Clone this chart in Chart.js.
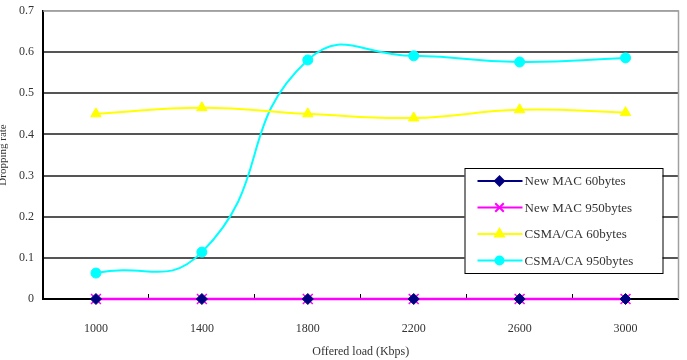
<!DOCTYPE html>
<html>
<head>
<meta charset="utf-8">
<script src="https://cdn.jsdelivr.net/npm/chart.js@4.4.1/dist/chart.umd.min.js"></script>
<style>
  html, body { margin: 0; padding: 0; background: #fff; }
  #wrap { width: 687px; height: 360px; }
</style>
</head>
<body>
<div id="wrap"><canvas id="myChart" width="687" height="360"></canvas></div>
<script>
// offered load (Kbps)
const loads = ['1000', '1400', '1800', '2200', '2600', '3000'];
// dropping rate per series
const newMac60 = [0, 0, 0, 0, 0, 0];
const newMac950 = [0, 0, 0, 0, 0, 0];
const csma60 = [0.450, 0.465, 0.450, 0.440, 0.460, 0.453];
const csma950 = [0.063, 0.114, 0.581, 0.591, 0.576, 0.586];
const yTicks = [0, 0.1, 0.2, 0.3, 0.4, 0.5, 0.6, 0.7];

const serif = "'Liberation Serif', 'DejaVu Serif', serif";

// light gray frame on the top and right of the plot area
const plotFrame = {
    id: 'plotFrame',
    beforeDatasetsDraw(chart){
        const {ctx, chartArea} = chart;
        ctx.save();
        ctx.strokeStyle = '#a0a0a0';
        ctx.lineWidth = 1.5;
        ctx.beginPath();
        ctx.moveTo(chartArea.left, chartArea.top);
        ctx.lineTo(chartArea.right, chartArea.top);
        ctx.lineTo(chartArea.right, chartArea.bottom);
        ctx.stroke();
        ctx.restore();
    }
};

// legend drawn as a boxed key inside the plot, excel style
const boxLegend = {
    id: 'boxLegend',
    afterDraw(chart){
        const {ctx, chartArea} = chart;
        const x = chartArea.right - 214, y = chartArea.bottom - 131;
        const w = 198, h = 105;
        ctx.save();
        ctx.fillStyle = '#fff';
        ctx.fillRect(x, y, w, h);
        ctx.strokeStyle = '#000';
        ctx.lineWidth = 1;
        ctx.strokeRect(x + 0.5, y + 0.5, w, h);
        chart.data.datasets.forEach((ds, i)=>{
            const cy = y + 13 + i * 26.5;
            ctx.strokeStyle = ds.borderColor;
            ctx.lineWidth = 2;
            ctx.beginPath();
            ctx.moveTo(x + 13, cy);
            ctx.lineTo(x + 58, cy);
            ctx.stroke();
            ctx.fillStyle = ds.pointBackgroundColor;
            ctx.strokeStyle = ds.pointBorderColor;
            Chart.helpers.drawPoint(ctx, {
                pointStyle: ds.pointStyle, radius: ds.pointRadius - 1,
                rotation: 0, borderWidth: ds.pointBorderWidth
            }, x + 35, cy);
            ctx.fillStyle = '#333';
            ctx.font = '13px ' + serif;
            ctx.textBaseline = 'middle';
            ctx.fillText(ds.label, x + 60, cy + 1);
        });
        ctx.restore();
    }
};

new Chart(document.getElementById('myChart'), {
    type: 'line',
    data: {
        labels: loads,
        datasets: [
            {
                label: 'New MAC 60bytes', data: newMac60, clip: false,
                borderColor: '#000080', borderWidth: 2, showLine: false,
                pointStyle: 'rectRot', pointRadius: 5.5,
                pointBackgroundColor: '#000080', pointBorderColor: '#000080', pointBorderWidth: 1
            },
            {
                label: 'New MAC 950bytes', data: newMac950, clip: false,
                borderColor: '#ff00ff', borderWidth: 2.5,
                pointStyle: 'crossRot', pointRadius: 7,
                pointBackgroundColor: '#ff00ff', pointBorderColor: '#ff00ff', pointBorderWidth: 1.5
            },
            {
                label: 'CSMA/CA 60bytes', data: csma60, clip: false,
                borderColor: '#ffff00', borderWidth: 2, tension: 0.45,
                pointStyle: 'triangle', pointRadius: 6,
                pointBackgroundColor: '#ffff00', pointBorderColor: '#ffff00', pointBorderWidth: 1
            },
            {
                label: 'CSMA/CA 950bytes', data: csma950, clip: false,
                borderColor: '#00ffff', borderWidth: 2, tension: 0.5,
                pointStyle: 'circle', pointRadius: 5,
                pointBackgroundColor: '#00ffff', pointBorderColor: '#00ffff', pointBorderWidth: 1
            }
        ]
    },
    options: {
        responsive: false,
        animation: false,
        layout: { padding: { left: 0, right: 6, top: 11, bottom: 0 } },
        plugins: {
            legend: { display: false },
            tooltip: { enabled: false }
        },
        scales: {
            x: {
                offset: true,
                grid: {
                    offset: true, drawOnChartArea: false, tickLength: -5,
                    color: '#000', tickColor: '#000'
                },
                border: { color: '#000', width: 2 },
                ticks: { color: '#333', font: { family: serif, size: 12 }, padding: 28, maxRotation: 0 },
                title: {
                    display: true, text: 'Offered load (Kbps)', color: '#333',
                    font: { family: serif, size: 12 }, padding: { top: 0, bottom: 1 }
                },
                afterFit(scale){ scale.height = 61; scale.paddingRight = 0; }
            },
            y: {
                min: 0, max: 0.7,
                afterBuildTicks(scale){ scale.ticks = yTicks.map(v => ({ value: v })); },
                grid: {
                    drawTicks: false,
                    color: ctx => ctx.tick && ctx.tick.value >= 0.7 ? '#a0a0a0' : '#555',
                    lineWidth: ctx => ctx.tick && ctx.tick.value >= 0.7 ? 1.5 : 2
                },
                border: { color: '#000', width: 2 },
                ticks: {
                    color: '#333', font: { family: serif, size: 12 }, padding: 9,
                    callback: v => String(Math.round(v * 10) / 10)
                },
                title: {
                    display: true, text: 'Dropping rate', color: '#333',
                    font: { family: serif, size: 11 }, padding: { top: -3, bottom: 0 }
                },
                afterFit(scale){ scale.width = 43; scale.paddingTop = 0; scale.paddingBottom = 0; }
            }
        }
    },
    plugins: [plotFrame, boxLegend]
});
</script>
</body>
</html>
